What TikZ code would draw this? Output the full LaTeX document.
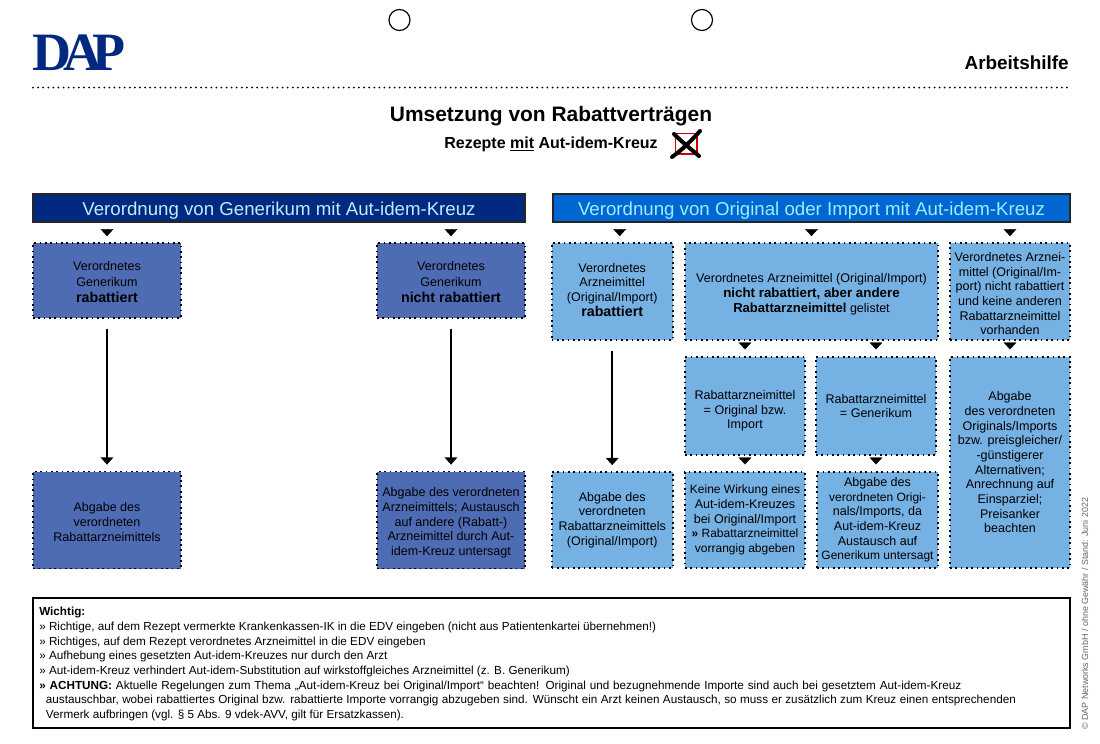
\documentclass[tikz,border=0pt]{standalone}
\usepackage{fontspec}
\setmainfont{Liberation Sans}
\newfontfamily\logofont{Liberation Serif Bold}
\newcommand\upby[1]{\rule[-#1]{0pt}{0pt}}
\newcommand\dnby[1]{\rule{0pt}{#1}}
\newcommand\bigb{\fontsize{10.7}{11}\bfseries\selectfont}
\newcommand\midb{\fontsize{10}{11}\bfseries\selectfont}
\newcommand\smlb{\fontsize{9.8}{11}\bfseries\selectfont}
\newcommand\tnr{\fontsize{9}{11}\selectfont}
\usetikzlibrary{arrows.meta,calc}
\tikzset{
  x=0.75pt,y=-0.75pt,
  sz/.style 2 args={minimum width=#1*0.75pt,minimum height=#2*0.75pt},
  bxbase/.style={rectangle,inner sep=0pt,align=center,text=black,draw=black,line width=1.3pt,
    dash pattern=on 1.3pt off 2.7pt,font=\fontsize{9.4}{11}\selectfont},
  darkbox/.style={bxbase,fill=boxdark},
  lightbox/.style={bxbase,fill=boxlight},
  hdr/.style={rectangle,inner sep=0pt,draw=black!85,line width=1pt,font=\fontsize{14}{15}\selectfont},
  tipa/.style={draw=black,line width=0.2pt,-{Triangle[length=5.2pt,width=9.5pt]},shorten >=4.5pt,shorten <=6.3pt},
  tipb/.style={draw=black,line width=0.2pt,-{Triangle[length=5.2pt,width=9.5pt]},shorten >=5pt,shorten <=2.3pt},
  longarrow/.style={draw=black,line width=1.2pt,-{Triangle[length=5.5pt,width=9.5pt]},shorten >=4.5pt,shorten <=7.5pt},
  hole/.style={circle,draw=black,line width=0.9pt,minimum size=15.8pt,inner sep=0pt},
}
\definecolor{boxdark}{HTML}{4E6CB4}
\definecolor{boxlight}{HTML}{76B1E4}
\definecolor{navy}{HTML}{00297F}
\definecolor{royal}{HTML}{0066D2}
\definecolor{cyanL}{HTML}{BDEBFF}
\definecolor{cyanR}{HTML}{9CEEFF}
\begin{document}
\begin{tikzpicture}
\useasboundingbox (0,0) rectangle (1100,743);
\fill[white] (0,0) rectangle (1100,743);
% punch holes
\node[hole] (h1) at (399.5,20) {};
\node[hole] (h2) at (702,20) {};
% logo
\node[anchor=base west,inner sep=0pt,text=navy,font=\fontsize{40.5}{41}\logofont\selectfont] (logo) at (32,70)
  {D\kern-5.5pt A\kern-7.5pt P};
% header
\node[anchor=base east,inner sep=0pt,font=\fontsize{14.2}{16}\bfseries\selectfont] (arb) at (1069,69) {Arbeitshilfe};
\draw[line width=1.5pt,line cap=round,dash pattern=on 0pt off 3.82pt] (33,87.5) -- (1070,87.5);
\node[inner sep=0pt,font=\fontsize{15.7}{20}\bfseries\selectfont] (title) at (551,116) {Umsetzung von Rabattverträgen};
\node[inner sep=0pt,font=\fontsize{12}{14}\bfseries\selectfont] (sub) at (551,144) {Rezepte \underline{mit} Aut-idem-Kreuz};
% cross
\draw[red!80!black,line width=1.2pt] (675.5,133.5) rectangle (697,154);
\draw[black,line width=3pt,line cap=round] (672,157) .. controls (682,150) and (692,140) .. (700,131);
\draw[black,line width=3pt,line cap=round] (674,134) .. controls (682,142) and (692,150) .. (699,156);
% column headers
\node[hdr,fill=navy,text=cyanL,sz={492}{28}] (hl) at (279,208) {\dnby{13.5pt}Verordnung von Generikum mit Aut-idem-Kreuz};
\node[hdr,fill=royal,text=cyanR,sz={517}{28}] (hr) at (811.5,208) {\dnby{13.5pt}Verordnung von Original oder Import mit Aut-idem-Kreuz};
% left boxes
\node[darkbox,sz={148}{75}] (L1) at (107,280.5) {\dnby{9pt}Verordnetes\\[0.7pt]Generikum\\[0.7pt]{\bigb rabattiert}};
\node[darkbox,sz={148}{75}] (L2) at (451,280.5) {\dnby{9pt}Verordnetes\\[0.7pt]Generikum\\[0.7pt]{\bigb nicht rabattiert}};
\node[darkbox,sz={148}{97}] (L3) at (107,520) {\dnby{10pt}Abgabe des\\verordneten\\Rabattarzneimittels};
\node[darkbox,sz={148}{97}] (L4) at (451,520) {\dnby{11pt}Abgabe des verordneten\\Arzneimittels; Austausch\\auf andere (Rabatt-)\\Arzneimittel durch Aut-\\idem-Kreuz untersagt};
% right boxes
\node[lightbox,sz={121}{97}] (R1) at (612.2,291.5) {Verordnetes\\Arzneimittel\\(Original/Import)\\{\bigb rabattiert}\upby{3pt}};
\node[lightbox,sz={253}{97}] (R2) at (811.5,291.5) {\dnby{11pt}Verordnetes Arzneimittel (Original/Import)\\{\midb nicht rabattiert, aber andere}\\{\smlb Rabattarzneimittel} gelistet};
\node[lightbox,sz={120}{97}] (R3) at (1010,291.5) {\dnby{10pt}Verordnetes Arznei-\\mittel (Original/Im-\\port) nicht rabattiert\\und keine anderen\\Rabattarzneimittel\\vorhanden};
\node[lightbox,sz={120}{98}] (R4) at (745,406) {\dnby{14pt}Rabattarzneimittel\\= Original bzw.\\Import};
\node[lightbox,sz={120}{98}] (R5) at (876,406) {Rabattarzneimittel\\= Generikum};
\node[lightbox,sz={120}{211}] (R6) at (1010,462.5) {Abgabe\\des verordneten\\Originals/Imports\\bzw. preisgleicher/\\-günstigerer\\Alternativen;\\Anrechnung auf\\Einsparziel;\\Preisanker\\beachten};
\node[lightbox,sz={121}{96}] (R7) at (612.2,520) {Abgabe des\\verordneten\\Rabattarzneimittels\\(Original/Import)};
\node[lightbox,sz={120}{96}] (R8) at (745,520) {{\tnr Keine Wirkung eines}\\Aut-idem-Kreuzes\\bei Original/Import\\{\tnr{\bfseries»} Rabattarzneimittel}\\{\tnr vorrangig abgeben}};
\node[lightbox,sz={121}{96}] (R9) at (877.5,520) {Abgabe des\\{\tnr verordneten Origi-}\\nals/Imports, da\\Aut-idem-Kreuz\\Austausch auf\\{\tnr Generikum untersagt}};
% small arrow tips
\draw[tipa] (hl.south -| L1.north) -- (L1.north);
\draw[tipa] (hl.south -| L2.north) -- (L2.north);
\coordinate (r1t) at ($(R1.north)+(7.5,0)$);
\draw[tipa] (hr.south -| r1t) -- (r1t);
\draw[tipa] (hr.south -| R2.north) -- (R2.north);
\draw[tipa] (hr.south -| R3.north) -- (R3.north);
\draw[tipb] (R2.south -| R4.north) -- (R4.north);
\draw[tipb] (R2.south -| R5.north) -- (R5.north);
\draw[tipb] (R3.south) -- (R6.north);
\draw[tipb] (R4.south) -- (R8.north -| R4.south);
\draw[tipb] (R5.south) -- (R9.north -| R5.south);
% long arrows
\draw[longarrow] (L1.south) -- (L3.north);
\draw[longarrow] (L2.south) -- (L4.north);
\draw[longarrow] (R1.south) -- (R7.north);
% notes
\node[draw=black,line width=1.1pt,inner sep=0pt,sz={1037}{130}] (note) at (551.5,663) {};
\node[anchor=north west,inner sep=0pt,align=left,font=\fontsize{8.78}{11}\selectfont] (notetext) at (39,607) {%
{\bfseries Wichtig:}\\
» Richtige, auf dem Rezept vermerkte Krankenkassen-IK in die EDV eingeben (nicht aus Patientenkartei übernehmen!)\\
» Richtiges, auf dem Rezept verordnetes Arzneimittel in die EDV eingeben\\
» Aufhebung eines gesetzten Aut-idem-Kreuzes nur durch den Arzt\\
» Aut-idem-Kreuz verhindert Aut-idem-Substitution auf wirkstoffgleiches Arzneimittel (z. B. Generikum)\\
\makebox[691.5pt][s]{{\bfseries » ACHTUNG:} Aktuelle Regelungen zum Thema „Aut-idem-Kreuz bei Original/Import“ beachten! Original und bezugnehmende Importe sind auch bei gesetztem Aut-idem-Kreuz}\\
\hspace*{5pt}\makebox[727.5pt][s]{austauschbar, wobei rabattiertes Original bzw. rabattierte Importe vorrangig abzugeben sind. Wünscht ein Arzt keinen Austausch, so muss er zusätzlich zum Kreuz einen entsprechenden}\\
\hspace*{5pt}Vermerk aufbringen (vgl. § 5 Abs. 9 vdek-AVV, gilt für Ersatzkassen).};
% copyright
\node[rotate=90,anchor=west,inner sep=0pt,text=black!60,font=\fontsize{6.7}{8}\selectfont] (copy) at (1085,730) {© DAP Networks GmbH / ohne Gewähr / Stand: Juni 2022};
\end{tikzpicture}
\end{document}
